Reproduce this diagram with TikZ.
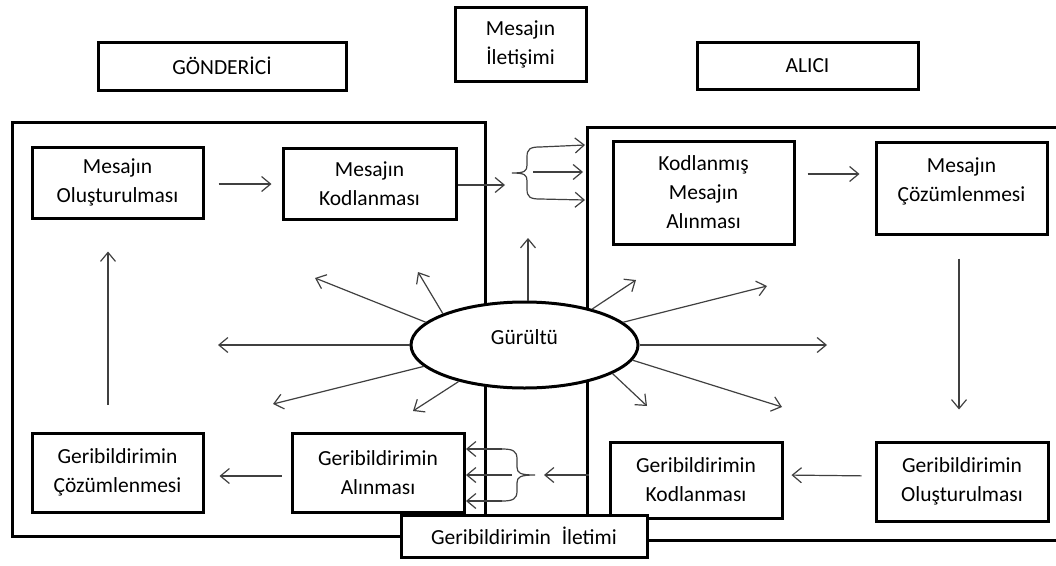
\documentclass[tikz,border=0pt]{standalone}
\usepackage{fontspec}
\setmainfont{Carlito}
\usetikzlibrary{arrows.meta,shapes.geometric}
\begin{document}
\begin{tikzpicture}[x=1pt,y=-1pt,
  box/.style={draw=black, line width=3pt, fill=white, inner sep=0pt, align=center,
    font=\fontsize{21.5}{29}\selectfont, text=black},
  txt/.style={inner sep=0pt, align=center, font=\fontsize{21.5}{29}\selectfont, text=black},
  frame/.style={draw=black, line width=3pt},
  arr/.style={draw=black!75, line width=1.2pt,
    -{Straight Barb[length=9pt,width=15pt,line width=1.2pt]}},
  ln/.style={draw=black!75, line width=1.2pt}]
\useasboundingbox (0,0) rectangle (1056,565);

% big frames
\draw[frame] (12,122) rectangle (485,536);
\draw[frame] (1064,127) -- (587,127) -- (587,540) -- (1064,540);

% title boxes
\node[box, minimum width=248pt, minimum height=48pt] (gon) at (222,66) {GÖNDERİCİ};
\node[box, minimum width=131pt, minimum height=74pt] (mil) at (520.5,44) {Mesajın\\İletişimi};
\node[box, minimum width=221pt, minimum height=47pt] (alc) at (807.5,65.5) {ALICI};

% sender boxes
\node[box, minimum width=171pt, minimum height=71pt] (mo) at (117.5,182.5) {Mesajın\\Oluşturulması};
\node[box, minimum width=173pt, minimum height=71pt] (mk) at (369.5,183.5) {Mesajın\\Kodlanması};
\node[box, minimum width=171pt, minimum height=79pt] (gc) at (117.5,472.5) {Geribildirimin\\Çözümlenmesi};
\node[box, minimum width=172pt, minimum height=79pt] (ga) at (378,472.5) {Geribildirimin\\Alınması};

% receiver boxes
\node[box, minimum width=181pt, minimum height=103pt] (kma) at (703.5,192.5) {Kodlanmış\\Mesajın\\Alınması};
\node[box, minimum width=171pt, minimum height=92pt] (mc) at (961.5,188) {};
\node[txt] (mct) at (961.5,181) {Mesajın\\Çözümlenmesi};
\node[box, minimum width=172pt, minimum height=76pt] (gk) at (696,480) {Geribildirimin\\Kodlanması};
\node[box, minimum width=172pt, minimum height=79pt] (go) at (962,481.5) {Geribildirimin\\Oluşturulması};

% flow arrows
\draw[arr, shorten <=14pt, shorten >=10pt] ([yshift=-1.5pt]mo.east) -- ([yshift=-0.5pt]mk.west);
\coordinate (tin) at (505,185);
\draw[arr] ([yshift=-1.5pt]mk.east) -- (tin);
\draw[arr, shorten <=12pt, shorten >=15pt] ([shift={(0,-18.5)}]kma.east) -- ([shift={(0,-14)}]mc.west);
\draw[arr, shorten <=23pt, shorten >=31pt] ([xshift=-2.5pt]mc.south) -- ([xshift=-3pt]go.north);
\draw[arr, shorten <=13pt, shorten >=8pt] ([shift={(0,-5.5)}]go.west) -- ([shift={(0,-5)}]gk.east);
\coordinate (bin) at (544,475);
\draw[arr, shorten <=20pt] ([shift={(0,-5)}]gk.west) -- (bin);
\draw[arr, shorten <=9pt, shorten >=15pt] ([shift={(0,3.5)}]ga.west) -- ([shift={(0,3.5)}]gc.east);
\draw[arr, shorten <=27pt, shorten >=32pt] ([xshift=-9.5pt]gc.north) -- ([xshift=-9.5pt]mo.south);

% top brace  "{"
\coordinate (ta1) at (540,147);
\coordinate (ta3) at (540,199);
\coordinate (r1) at (585,145);
\coordinate (r2) at (583,172);
\coordinate (r3) at (585,200);
\draw[ln] (ta1) .. controls (530,147) and (527,149) .. (527,157) -- (527,165)
  .. controls (527,171) and (525,173) .. (512,173)
  .. controls (525,173) and (527,175) .. (527,181) -- (527,189)
  .. controls (527,197) and (530,199) .. (ta3);
\draw[arr] (ta1) -- (r1);
\draw[arr] (ta3) -- (r3);
\draw[arr] (533,172) -- (r2);

% bottom brace  "}"
\coordinate (ba1) at (502,449);
\coordinate (ba3) at (502,501);
\coordinate (l1) at (466,449);
\coordinate (l2) at (466,475);
\coordinate (l3) at (466,501);
\draw[ln] (ba1) .. controls (513,449) and (517,451) .. (517,459) -- (517,467)
  .. controls (517,473) and (520,475) .. (535,475)
  .. controls (520,475) and (517,477) .. (517,483) -- (517,491)
  .. controls (517,499) and (513,501) .. (ba3);
\draw[arr] (ba1) -- (l1);
\draw[arr] (ba3) -- (l3);
\draw[arr] (512,475) -- (l2);

% noise
\node[draw=black, line width=3pt, fill=white, ellipse, inner sep=0pt,
  minimum width=227pt, minimum height=86pt] (g) at (524.5,345) {};
\node[txt] (gt) at (524.5,337) {Gürültü};
\coordinate (n1) at (218,345);
\coordinate (n2) at (273,404);
\coordinate (n3) at (413,411);
\coordinate (n4) at (315,278);
\coordinate (n5) at (418,272);
\coordinate (n6) at (528,238);
\coordinate (n7) at (636,280);
\coordinate (n8) at (767,286);
\coordinate (n9) at (827,345);
\coordinate (n10) at (782,407);
\coordinate (n11) at (647,406);
\draw[arr] (g.180) -- (n1);
\draw[arr] (g.192.2) -- (n2);
\draw[arr] (g.209.4) -- (n3);
\draw[arr] (g.167.7) -- (n4);
\draw[arr] (g.159) -- (n5);
\draw[arr] ([xshift=3.5pt]g.north) -- (n6);
\draw[arr] (g.28.8) -- (n7);
\draw[arr] (g.13.3) -- (n8);
\draw[arr] (g.0) -- (n9);
\draw[arr] (g.-8.6) -- (n10);
\draw[arr] (g.-18.2) -- (n11);

% feedback transmission box
\node[box, minimum width=246pt, minimum height=42pt] (gi) at (524,536) {Geribildirimin\hspace{0.5em}İletimi};
\end{tikzpicture}
\end{document}
